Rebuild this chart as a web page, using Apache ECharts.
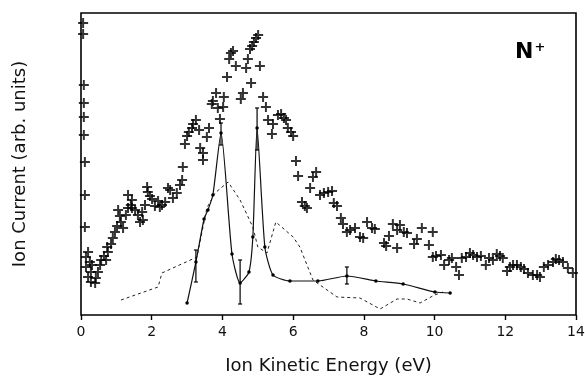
<!DOCTYPE html>
<html>
<head>
<meta charset="utf-8">
<script src="https://cdn.jsdelivr.net/npm/echarts@6/dist/echarts.min.js"></script>
<style>
  html, body { margin: 0; padding: 0; background: #fff; }
  #chart { width: 585px; height: 376px; }
</style>
</head>
<body>
<div id="chart"></div>
<script>
// measured ion current (crosses), energy in eV, current in arbitrary units
const measured = [
  [0.06, 292], [0.06, 281], [0.08, 230], [0.08, 212], [0.08, 198], [0.08, 180],
  [0.11, 153], [0.11, 120], [0.11, 88],
  [0.14, 58], [0.20, 63], [0.25, 53], [0.14, 48], [0.31, 50], [0.28, 43], [0.20, 38],
  [0.28, 33], [0.40, 32], [0.42, 37], [0.48, 43], [0.54, 50], [0.57, 55], [0.65, 59],
  [0.71, 55], [0.76, 63], [0.74, 68], [0.85, 71], [0.90, 77], [0.96, 83], [1.02, 89],
  [1.05, 105], [1.10, 99], [1.13, 93], [1.19, 87], [1.27, 100], [1.33, 107], [1.41, 110],
  [1.33, 120], [1.44, 115], [1.44, 107], [1.53, 105], [1.61, 100], [1.67, 93], [1.75, 95],
  [1.73, 103], [1.81, 110], [1.87, 128], [1.89, 123], [1.95, 119], [2.01, 116], [2.09, 109],
  [2.18, 114], [2.23, 108], [2.29, 110], [2.38, 113], [2.46, 127], [2.52, 125], [2.60, 117],
  [2.71, 122], [2.80, 130], [2.86, 135], [2.88, 148],
  [2.94, 171], [3.00, 179], [3.05, 183], [3.14, 187], [3.17, 191], [3.25, 195], [3.34, 185],
  [3.37, 167], [3.45, 162], [3.45, 155], [3.56, 178], [3.62, 187], [3.70, 211], [3.73, 214],
  [3.82, 222], [3.87, 207], [4.02, 208], [4.04, 218], [3.93, 196], [4.13, 238], [4.19, 256],
  [4.24, 262], [4.30, 264], [4.38, 249], [4.58, 222], [4.52, 216], [4.67, 247], [4.72, 256],
  [4.81, 232], [5.06, 249], [4.78, 266], [4.84, 269], [4.89, 273], [4.95, 277], [5.01, 280],
  [5.15, 218], [5.23, 208], [5.29, 195], [5.43, 191], [5.57, 200], [5.66, 201], [5.74, 197],
  [5.80, 195], [5.40, 181], [5.85, 187], [5.94, 183], [6.00, 179],
  [6.08, 154], [6.14, 139], [6.56, 138], [6.65, 143], [6.48, 127], [6.25, 113], [6.33, 109],
  [6.39, 107], [6.76, 120], [6.87, 122], [6.99, 123], [7.10, 124], [7.15, 112], [7.24, 109],
  [7.35, 97], [7.41, 91], [7.52, 83], [7.61, 85], [7.75, 87], [7.89, 78], [7.98, 77],
  [8.09, 93], [8.23, 87], [8.31, 86],
  [8.57, 72], [8.63, 69], [8.71, 79], [8.82, 91], [8.94, 85], [9.02, 90], [9.13, 83],
  [9.22, 82], [9.42, 71], [9.50, 76], [9.64, 87], [9.84, 70], [9.95, 83], [8.94, 67],
  [9.95, 58], [10.04, 59], [10.18, 60], [10.27, 50], [10.41, 55], [10.49, 57], [10.61, 48],
  [10.69, 40], [10.77, 57], [10.89, 58], [11.00, 62], [11.09, 60], [11.20, 58], [11.31, 59],
  [11.45, 50], [11.54, 57], [11.65, 55], [11.76, 61], [11.85, 59], [11.93, 57], [12.05, 44],
  [12.13, 48], [12.22, 50], [12.33, 50], [12.44, 48], [12.53, 46], [12.64, 42], [12.78, 40],
  [12.90, 40], [12.98, 38], [13.09, 48], [13.21, 50], [13.35, 53], [13.43, 56], [13.52, 55],
  [13.63, 53], [13.77, 47], [13.91, 42]
];

// solid curve with dots
const solidCurve = [
  [3.00, 12], [3.25, 53], [3.48, 96], [3.59, 105], [3.73, 120], [3.96, 182], [4.27, 61],
  [4.50, 32], [4.75, 43], [4.86, 78], [4.98, 187], [5.20, 68], [5.43, 40], [5.91, 34],
  [6.70, 34], [7.52, 39], [8.34, 34], [9.11, 31], [10.01, 23], [10.44, 22]
];

// dashed curve
const dashedCurve = [
  [1.13, 15], [2.18, 28], [2.29, 42], [3.28, 58], [3.56, 107], [3.79, 122], [4.16, 133],
  [4.50, 115], [4.86, 88], [5.00, 68], [5.26, 62], [5.51, 93], [6.00, 78], [6.19, 68],
  [6.56, 35], [7.24, 18], [7.89, 17], [8.46, 6], [8.94, 16], [9.22, 16], [9.59, 12],
  [10.00, 20], [10.24, 23]
];

// error bars: energy, low, high
const errorBars = [
  [3.25, 33, 65], [3.96, 170, 192], [4.50, 11, 55], [4.98, 165, 207], [7.52, 31, 48]
];

const xTicks = [0, 2, 4, 6, 8, 10, 12, 14];

const font = "DejaVu Sans";
const plus = "path://M4,0h2v4h4v2h-4v4h-2v-4h-4v-2h4z";

const chart = echarts.init(document.getElementById("chart"), null, { renderer: "canvas" });

chart.setOption({
  animation: false,
  title: {
    text: "{n|N}{s|+}",
    left: 510,
    top: 36,
    textStyle: {
      rich: {
        n: { fontFamily: font, fontSize: 22, fontWeight: "bold", color: "#000" },
        s: { fontFamily: font, fontSize: 13, fontWeight: "bold", color: "#000", verticalAlign: "top", padding: [0, 0, 10, 1] }
      }
    }
  },
  grid: {
    left: 81, right: 9, top: 13, bottom: 61,
    outerBoundsMode: "none",
    show: true, borderColor: "#000", borderWidth: 1.6, backgroundColor: "transparent"
  },
  xAxis: {
    type: "value",
    min: 0, max: 14, interval: 2,
    name: "Ion Kinetic Energy (eV)",
    nameLocation: "middle",
    nameGap: 42,
    nameTextStyle: { fontFamily: font, fontSize: 18, color: "#111" },
    axisLine: { show: false },
    axisTick: { show: true, length: 5, lineStyle: { color: "#000", width: 1.4 } },
    axisLabel: {
      margin: 10, fontFamily: font, fontSize: 14, color: "#111",
      formatter: v => (xTicks.includes(v) ? String(v) : "")
    },
    splitLine: { show: false }
  },
  yAxis: {
    type: "value",
    min: 0, max: 302,
    name: "Ion Current (arb. units)",
    nameLocation: "middle",
    nameGap: 52,
    nameTextStyle: { fontFamily: font, fontSize: 18, color: "#111" },
    axisLine: { show: false },
    axisTick: { show: false },
    axisLabel: { show: false },
    splitLine: { show: false }
  },
  series: [
    {
      type: "line",
      data: dashedCurve,
      symbol: "none",
      lineStyle: { color: "#222", width: 1, type: [3, 3] },
      z: 2
    },
    {
      type: "line",
      data: solidCurve,
      smooth: 0.2,
      symbol: "circle",
      symbolSize: 3.5,
      itemStyle: { color: "#000" },
      lineStyle: { color: "#111", width: 1.2 },
      z: 3
    },
    {
      type: "custom",
      data: errorBars,
      renderItem: (params, api) => {
        const e = api.value(0);
        const lo = api.coord([e, api.value(1)]);
        const hi = api.coord([e, api.value(2)]);
        const style = { stroke: "#000", lineWidth: 1.2 };
        return {
          type: "group",
          children: [
            { type: "line", shape: { x1: lo[0], y1: lo[1], x2: hi[0], y2: hi[1] }, style },
            { type: "line", shape: { x1: lo[0] - 2, y1: lo[1], x2: lo[0] + 2, y2: lo[1] }, style },
            { type: "line", shape: { x1: hi[0] - 2, y1: hi[1], x2: hi[0] + 2, y2: hi[1] }, style }
          ]
        };
      },
      z: 4
    },
    {
      type: "scatter",
      data: measured,
      symbol: plus,
      symbolSize: 10,
      itemStyle: { color: "#000" },
      z: 5
    }
  ]
});
</script>
</body>
</html>
